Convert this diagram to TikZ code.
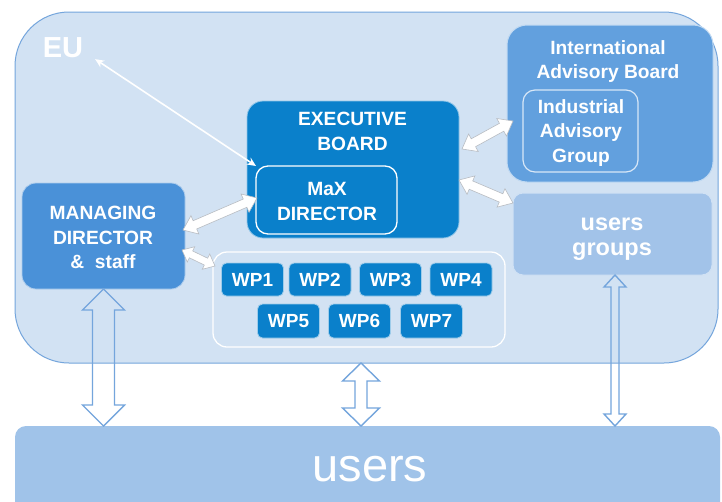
\documentclass[tikz,border=0pt]{standalone}
\usepackage{fontspec}
\setmainfont{Liberation Sans}
\usetikzlibrary{calc,arrows.meta}
\definecolor{eufill}{HTML}{D2E2F3}
\definecolor{euline}{HTML}{74A5DC}
\definecolor{ebfill}{HTML}{0A80CB}
\definecolor{mdfill}{HTML}{4A91D8}
\definecolor{iabfill}{HTML}{62A0DE}
\definecolor{ugfill}{HTML}{A2C3E9}
\definecolor{usersfill}{HTML}{A0C3E9}
\definecolor{fatline}{HTML}{B8BCC2}
\newcommand\fatarrow[6]{%
  \draw[#3] let \p1=(#1), \p2=(#2), \n1={atan2(\y2-\y1,\x2-\x1)},
    \n2={\n1+90}, \n3={\n1-90}, \n4={\n1+180} in
    (\p1) -- ($(\p1)+(\n1:#6)+(\n2:#5)$) -- ($(\p1)+(\n1:#6)+(\n2:#4)$)
    -- ($(\p2)+(\n4:#6)+(\n2:#4)$) -- ($(\p2)+(\n4:#6)+(\n2:#5)$) -- (\p2)
    -- ($(\p2)+(\n4:#6)+(\n3:#5)$) -- ($(\p2)+(\n4:#6)+(\n3:#4)$)
    -- ($(\p1)+(\n1:#6)+(\n3:#4)$) -- ($(\p1)+(\n1:#6)+(\n3:#5)$) -- cycle;}
\tikzset{
  box/.style={rectangle, inner sep=0pt, outer sep=0pt},
  lbl/.style={inner sep=0pt, outer sep=0pt, text=white, align=center,
    font=\bfseries\fontsize{19.2}{24.5}\selectfont},
  wpbox/.style={box, fill=ebfill, draw=white!60!ebfill, line width=0.8pt,
    rounded corners=5pt, minimum width=62pt, text=white,
    font=\bfseries\fontsize{19}{24.5}\selectfont},
  hollow/.style={draw=euline, line width=1.4pt, line join=miter},
  whitearrow/.style={fill=white, draw=fatline, line width=0.6pt, line join=miter},
}
\begin{document}
\begin{tikzpicture}[x=1pt, y=-1pt]
\useasboundingbox (0,0) rectangle (722,501);
\clip (0,0) rectangle (722,501);
\fill[white] (0,0) rectangle (722,501);
% EU container
\node[box, fill=eufill, draw=euline, line width=1pt, rounded corners=54pt,
  minimum width=703pt, minimum height=351pt] (eu) at (366.5,187.5) {};
\node[lbl, font=\bfseries\fontsize{29}{32}\selectfont] (eulbl) at (63,48) {EU};
% Executive board
\node[box, fill=ebfill, draw=white!55!ebfill, line width=0.8pt, rounded corners=16pt,
  minimum width=212pt, minimum height=137pt] (eb) at (353,169.5) {};
\node[lbl] (ebt) at (352.5,131.5) {EXECUTIVE\\BOARD};
\node[box, fill=ebfill, draw=white, line width=1.3pt, rounded corners=12pt,
  minimum width=141pt, minimum height=68pt] (max) at (326.5,200) {};
\node[lbl] (maxt) at (327,201.5) {MaX\\DIRECTOR};
% International advisory board
\node[box, fill=iabfill, draw=white!60!iabfill, line width=1pt, rounded corners=20pt,
  minimum width=206pt, minimum height=157pt] (iab) at (610,103.5) {};
\node[lbl] (iabt) at (608,61.5) {International\\Advisory Board};
\node[box, fill=iabfill, draw=white!75!iabfill, line width=1.2pt, rounded corners=12pt,
  minimum width=115pt, minimum height=82pt] (iag) at (580.5,131) {};
\node[lbl] (iagt) at (581,133) {Industrial\\Advisory\\Group};
% users groups
\node[box, fill=ugfill, draw=white!50!ugfill, line width=1pt, rounded corners=10pt,
  minimum width=199pt, minimum height=82pt] (ug) at (612.5,234) {};
\node[lbl, font=\bfseries\fontsize{23.5}{25.5}\selectfont] (ugt) at (612,239) {users\\groups};
% managing director
\node[box, fill=mdfill, draw=white!55!mdfill, line width=0.8pt, rounded corners=14pt,
  minimum width=163pt, minimum height=106pt] (md) at (103.5,236) {};
\node[lbl] (mdt) at (103,237.5) {MANAGING\\DIRECTOR\\\&\ \ staff};
% work packages
\node[box, fill=eufill, draw=white, line width=1.3pt, rounded corners=14pt,
  minimum width=292pt, minimum height=95pt] (wpc) at (359,299.5) {};
\node[wpbox, minimum height=33pt] (wp1) at (252.5,279.5) {WP1};
\node[wpbox, minimum height=33pt] (wp2) at (320,279.5) {WP2};
\node[wpbox, minimum height=33pt] (wp3) at (390.5,279.5) {WP3};
\node[wpbox, minimum height=33pt] (wp4) at (461,279.5) {WP4};
\node[wpbox, minimum height=34pt] (wp5) at (288.5,321) {WP5};
\node[wpbox, minimum height=34pt] (wp6) at (359.5,321) {WP6};
\node[wpbox, minimum height=34pt] (wp7) at (431.5,321) {WP7};
% users
\node[box, fill=usersfill, rounded corners=11pt,
  minimum width=705pt, minimum height=114pt] (users) at (367.5,483) {};
\node[inner sep=0pt, text=white, font=\fontsize{47}{50}\selectfont] (userst) at (370,469.5) {users};
% connectors
\coordinate (euend) at ($(eulbl.south east)+(12,1)$);
\draw[white, line width=1.6pt, {Stealth[length=9pt,width=8pt]}-{Stealth[length=9pt,width=8pt]}]
  (euend) -- (max.north west);
\coordinate (ebr1) at (462,149);
\coordinate (iabl) at (513,121);
\coordinate (ebr2) at (459,180);
\coordinate (ugl) at (513,203);
\coordinate (mdr1) at (183,230);
\coordinate (maxl) at (257,198);
\coordinate (mdr2) at (182,250);
\coordinate (wpl) at (215,266);
\fatarrow{ebr1}{iabl}{whitearrow}{4.5pt}{10pt}{13pt}
\fatarrow{ebr2}{ugl}{whitearrow}{4.5pt}{10pt}{13pt}
\fatarrow{mdr1}{maxl}{whitearrow}{4.5pt}{10pt}{13pt}
\fatarrow{mdr2}{wpl}{whitearrow}{3.8pt}{8.5pt}{10pt}
% big hollow double arrows
\coordinate (a1top) at (md.south);
\coordinate (a1bot) at (md.south |- users.north);
\coordinate (a2top) at (eu.south -| 361,0);
\coordinate (a2bot) at (a2top |- users.north);
\coordinate (a3top) at ($(ug.south)+(2.5,0)$);
\coordinate (a3bot) at (a3top |- users.north);
\fatarrow{a1top}{a1bot}{hollow}{11pt}{21pt}{21pt}
\fatarrow{a2top}{a2bot}{hollow}{6pt}{18.5pt}{18pt}
\fatarrow{a3top}{a3bot}{hollow}{4pt}{11pt}{12pt}
\end{tikzpicture}
\end{document}
